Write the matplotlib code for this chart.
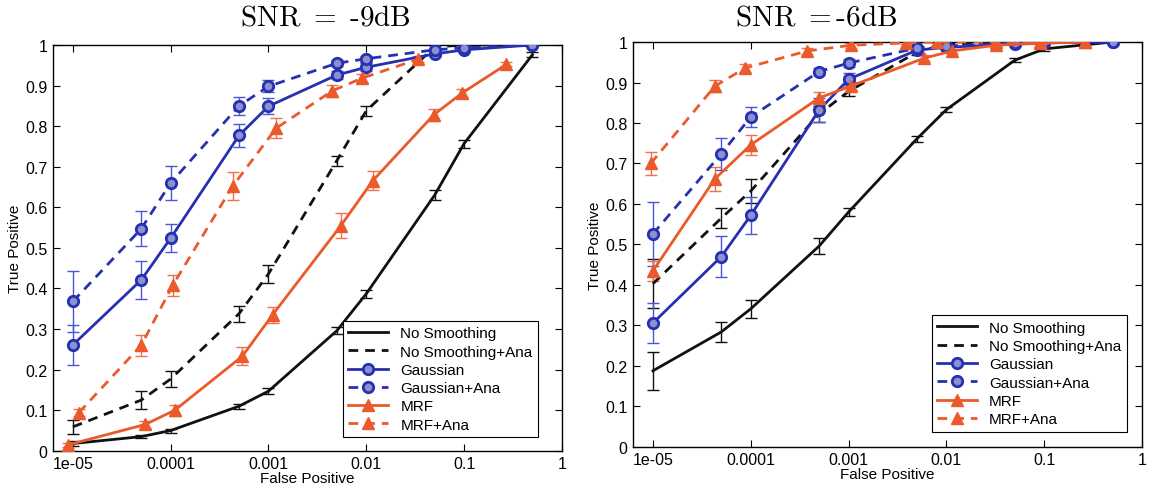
"""
ROC curves (True Positive vs False Positive) for two SNR levels, with error bars.

Six methods: No Smoothing / Gaussian / MRF, each with and without "+Ana".
"""
import matplotlib

matplotlib.use("Agg")
import matplotlib.pyplot as plt
from matplotlib.ticker import FixedLocator, NullLocator

plt.rcParams["font.family"] = ["Liberation Sans", "DejaVu Sans"]
plt.rcParams["mathtext.fontset"] = "cm"

FP_GRID = [1e-5, 5e-5, 1e-4, 5e-4, 1e-3, 5e-3, 1e-2, 5e-2, 1e-1, 0.5]

# ---- SNR = -9dB ----
ns_x_l = FP_GRID
ns_y_l = [0.018, 0.035, 0.05, 0.11, 0.147, 0.296, 0.387, 0.63, 0.757, 0.976]
ns_e_l = [0.006, 0.004, 0.005, 0.006, 0.007, 0.008, 0.01, 0.012, 0.01, 0.006]

nsa_x_l = FP_GRID
nsa_y_l = [0.059, 0.125, 0.177, 0.338, 0.436, 0.715, 0.838, 0.995, 1.0, 1.0]
nsa_e_l = [0.018, 0.023, 0.02, 0.02, 0.022, 0.012, 0.012, 0.004, 0.002, 0.001]

g_x_l = FP_GRID
g_y_l = [0.261, 0.421, 0.524, 0.777, 0.849, 0.926, 0.945, 0.978, 0.988, 1.0]
g_e_l = [0.05, 0.046, 0.035, 0.029, 0.02, 0.01, 0.01, 0.006, 0.005, 0.002]

ga_x_l = FP_GRID
ga_y_l = [0.368, 0.547, 0.66, 0.85, 0.898, 0.955, 0.966, 0.988, 0.993, 1.0]
ga_e_l = [0.075, 0.043, 0.043, 0.022, 0.015, 0.008, 0.008, 0.005, 0.004, 0.002]

m_x_l = [9e-6, 5.5e-5, 1.1e-4, 5.4e-4, 1.1e-3, 5.5e-3, 1.17e-2, 4.9e-2, 9.6e-2, 0.27]
m_y_l = [0.015, 0.065, 0.1, 0.233, 0.335, 0.555, 0.666, 0.828, 0.882, 0.952]
m_e_l = [0.005, 0.008, 0.014, 0.022, 0.02, 0.03, 0.024, 0.015, 0.01, 0.005]

ma_x_l = [1.15e-5, 5e-5, 1.05e-4, 4.3e-4, 1.2e-3, 4.5e-3, 9e-3, 3.4e-2]
ma_y_l = [0.094, 0.26, 0.408, 0.652, 0.795, 0.887, 0.918, 0.965]
ma_e_l = [0.008, 0.026, 0.026, 0.034, 0.025, 0.015, 0.01, 0.008]

# ---- SNR = -6dB ----
ns_x_r = FP_GRID
ns_y_r = [0.188, 0.284, 0.341, 0.496, 0.58, 0.761, 0.833, 0.955, 0.983, 1.0]
ns_e_r = [0.047, 0.024, 0.022, 0.02, 0.01, 0.008, 0.006, 0.005, 0.004, 0.002]

nsa_x_r = FP_GRID
nsa_y_r = [0.403, 0.565, 0.632, 0.822, 0.878, 0.975, 0.995, 1.0, 1.0, 1.0]
nsa_e_r = [0.06, 0.025, 0.03, 0.02, 0.012, 0.008, 0.005, 0.003, 0.002, 0.001]

g_x_r = FP_GRID
g_y_r = [0.306, 0.47, 0.572, 0.832, 0.908, 0.98, 0.987, 0.995, 0.998, 1.0]
g_e_r = [0.05, 0.05, 0.045, 0.03, 0.015, 0.008, 0.005, 0.004, 0.003, 0.002]

ga_x_r = FP_GRID
ga_y_r = [0.526, 0.724, 0.815, 0.927, 0.948, 0.985, 0.99, 0.998, 1.0, 1.0]
ga_e_r = [0.08, 0.04, 0.025, 0.008, 0.01, 0.005, 0.004, 0.003, 0.002, 0.001]

m_x_r = [1e-5, 4.3e-5, 1e-4, 5e-4, 1.05e-3, 5.9e-3, 1.15e-2, 3.2e-2, 9e-2, 0.26]
m_y_r = [0.435, 0.662, 0.746, 0.862, 0.891, 0.96, 0.978, 0.992, 0.997, 1.0]
m_e_r = [0.025, 0.03, 0.025, 0.015, 0.01, 0.008, 0.006, 0.004, 0.003, 0.002]

ma_x_r = [9.5e-6, 4.3e-5, 8.8e-5, 3.8e-4, 1.05e-3, 3.9e-3, 8e-3, 3.2e-2, 9e-2, 0.26]
ma_y_r = [0.70, 0.891, 0.936, 0.978, 0.992, 0.998, 1.0, 1.0, 1.0, 1.0]
ma_e_r = [0.028, 0.015, 0.01, 0.008, 0.006, 0.004, 0.003, 0.002, 0.002, 0.001]

LABELS = ["No Smoothing", "No Smoothing+Ana", "Gaussian", "Gaussian+Ana", "MRF", "MRF+Ana"]
X_TICKS = [1e-5, 1e-4, 1e-3, 1e-2, 1e-1, 1]
X_TICK_LABELS = ["1e-05", "0.0001", "0.001", "0.01", "0.1", "1"]
Y_TICKS = [0, 0.1, 0.2, 0.3, 0.4, 0.5, 0.6, 0.7, 0.8, 0.9, 1]
Y_TICK_LABELS = ["0", "0.1", "0.2", "0.3", "0.4", "0.5", "0.6", "0.7", "0.8", "0.9", "1"]

BLACK = "#111111"
BLUE = "#2630b0"
BLUE_ERR = "#4a55d8"
RED = "#ea5a2a"
RED_ERR = "#f07050"

STYLES = [
    dict(color=BLACK, ecolor=BLACK, ls="-", marker=None),
    dict(color=BLACK, ecolor=BLACK, ls=(0, (3.5, 2.5)), marker=None),
    dict(color=BLUE, ecolor=BLUE_ERR, ls="-", marker="o"),
    dict(color=BLUE, ecolor=BLUE_ERR, ls=(0, (3.5, 2.5)), marker="o"),
    dict(color=RED, ecolor=RED_ERR, ls="-", marker="^"),
    dict(color=RED, ecolor=RED_ERR, ls=(0, (3.5, 2.5)), marker="^"),
]


def draw_panel(ax, series, legend_anchor):
    handles = []
    for (x, y, e), st in zip(series, STYLES):
        ax.errorbar(x, y, yerr=e, fmt="none", ecolor=st["ecolor"],
                    elinewidth=1.0, capsize=4, capthick=1.0, zorder=2)
        kw = {}
        if st["marker"] == "o":
            kw = dict(marker="o", ms=7.5, mfc="#8a90d0", mec=st["color"], mew=2.0)
        elif st["marker"] == "^":
            kw = dict(marker="^", ms=8.5, mfc=st["color"], mec=st["color"], mew=1.0)
        (h,) = ax.plot(x, y, color=st["color"], ls=st["ls"], lw=2.0, zorder=3, **kw)
        handles.append(h)

    ax.set_xscale("log")
    ax.set_xlim(6.25e-6, 1)
    ax.set_ylim(0, 1)
    ax.xaxis.set_major_locator(FixedLocator(X_TICKS))
    ax.xaxis.set_minor_locator(NullLocator())
    ax.set_xticklabels(X_TICK_LABELS)
    ax.set_yticks(Y_TICKS)
    ax.set_yticklabels(Y_TICK_LABELS)
    ax.tick_params(direction="in", top=True, right=True, length=5, width=0.8,
                   labelsize=11.5, pad=4)
    for sp in ax.spines.values():
        sp.set_linewidth(1.0)
    ax.set_xlabel("False Positive", fontsize=11, labelpad=0)
    ax.set_ylabel("True Positive", fontsize=11, labelpad=2)

    leg = ax.legend(handles, LABELS, loc="lower right", fontsize=11,
                    handlelength=2.6, handletextpad=0.8, labelspacing=0.28,
                    borderpad=0.35, borderaxespad=0, fancybox=False, framealpha=1,
                    bbox_to_anchor=legend_anchor)
    leg.get_frame().set_edgecolor("black")
    leg.get_frame().set_linewidth(0.8)
    return handles


def main():
    fig = plt.figure(figsize=(11.5, 4.89), dpi=100)
    ax_l = fig.add_axes([0.046, 0.076, 0.4426, 0.830])
    ax_r = fig.add_axes([0.5504, 0.084, 0.4426, 0.828])

    draw_panel(ax_l, [
        (ns_x_l, ns_y_l, ns_e_l), (nsa_x_l, nsa_y_l, nsa_e_l),
        (g_x_l, g_y_l, g_e_l), (ga_x_l, ga_y_l, ga_e_l),
        (m_x_l, m_y_l, m_e_l), (ma_x_l, ma_y_l, ma_e_l),
    ], (0.953, 0.034))
    draw_panel(ax_r, [
        (ns_x_r, ns_y_r, ns_e_r), (nsa_x_r, nsa_y_r, nsa_e_r),
        (g_x_r, g_y_r, g_e_r), (ga_x_r, ga_y_r, ga_e_r),
        (m_x_r, m_y_r, m_e_r), (ma_x_r, ma_y_r, ma_e_r),
    ], (0.97, 0.038))

    fig.text(325 / 1150, 1 - 18 / 489, r"$\mathrm{SNR\ =\ \text{-}9dB}$",
             ha="center", va="center", fontsize=21)
    fig.text(816 / 1150, 1 - 18 / 489, r"$\mathrm{SNR\ =\text{-}6dB}$",
             ha="center", va="center", fontsize=21)

    fig.savefig("out.png", dpi=100)
    plt.close(fig)


if __name__ == "__main__":
    main()
